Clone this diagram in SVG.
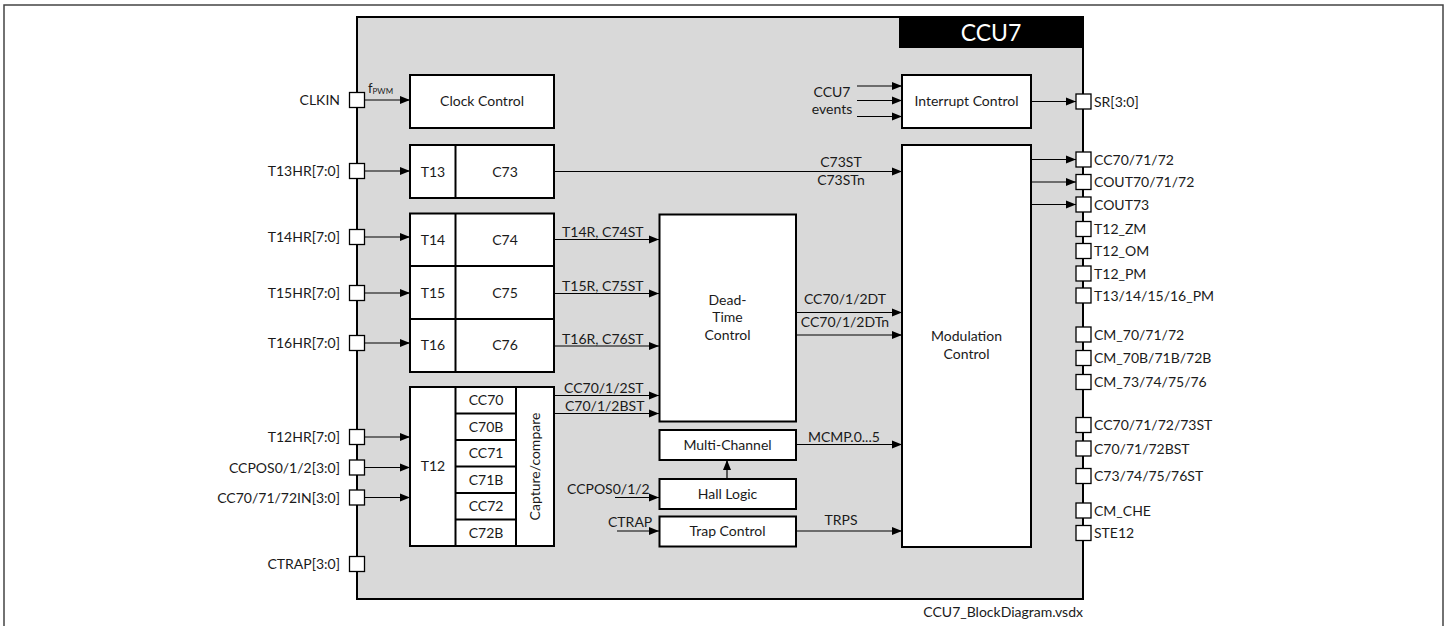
<svg xmlns="http://www.w3.org/2000/svg" width="1450" height="626" viewBox="0 0 1450 626">
<defs>
<marker id="ah" viewBox="0 0 10 10" refX="10" refY="5" markerWidth="10" markerHeight="10" markerUnits="userSpaceOnUse" orient="auto">
<path d="M0,1 L10,5 L0,9 Z" fill="#000"/>
</marker>
<style>
text{font-family:Lato,"Liberation Sans",sans-serif;font-size:14px;fill:#1a1a1a}
.b{fill:#fff;stroke:#000;stroke-width:2}
.p{fill:#fff;stroke:#000;stroke-width:1.3}
.w{stroke:#000;stroke-width:1.2;fill:none;marker-end:url(#ah)}
.m{text-anchor:middle}
.e{text-anchor:end}
</style>
</defs>
<rect width="1450" height="626" fill="#fff"/>
<path d="M4,626 V5 H1443 V626" fill="none" stroke="#444" stroke-width="1.5"/>

<g id="ccu7">
<rect x="357" y="17" width="726" height="582" fill="#d9d9d9" stroke="#000" stroke-width="2"/>
<rect x="899" y="17" width="184" height="31" fill="#000"/>
<text x="991" y="41" class="m" style="font-size:23px;fill:#fff">CCU7</text>
</g>

<g id="connectors">
<line x1="365" y1="100" x2="410" y2="100" class="w"/>
<line x1="365" y1="171" x2="410" y2="171" class="w"/>
<line x1="365" y1="237" x2="410" y2="237" class="w"/>
<line x1="365" y1="293" x2="410" y2="293" class="w"/>
<line x1="365" y1="343" x2="410" y2="343" class="w"/>
<line x1="365" y1="437" x2="410" y2="437" class="w"/>
<line x1="365" y1="467.5" x2="410" y2="467.5" class="w"/>
<line x1="365" y1="497.5" x2="410" y2="497.5" class="w"/>
<line x1="554" y1="171.5" x2="902" y2="171.5" class="w"/>
<line x1="554" y1="239.5" x2="659" y2="239.5" class="w"/>
<line x1="554" y1="293.5" x2="659" y2="293.5" class="w"/>
<line x1="554" y1="346" x2="659" y2="346" class="w"/>
<line x1="554" y1="395.5" x2="659" y2="395.5" class="w"/>
<line x1="554" y1="413.5" x2="659" y2="413.5" class="w"/>
<line x1="796" y1="312.5" x2="902" y2="312.5" class="w"/>
<line x1="796" y1="335" x2="902" y2="335" class="w"/>
<line x1="796" y1="444.5" x2="902" y2="444.5" class="w"/>
<line x1="796" y1="531" x2="902" y2="531" class="w"/>
<line x1="727" y1="479" x2="727" y2="460" class="w"/>
<line x1="615" y1="497.5" x2="659" y2="497.5" class="w"/>
<line x1="617" y1="531" x2="659" y2="531" class="w"/>
<line x1="857" y1="86" x2="902" y2="86" class="w"/>
<line x1="857" y1="100.5" x2="902" y2="100.5" class="w"/>
<line x1="857" y1="116.5" x2="902" y2="116.5" class="w"/>
<line x1="1031" y1="101.5" x2="1076" y2="101.5" class="w"/>
<line x1="1031" y1="159.5" x2="1076" y2="159.5" class="w"/>
<line x1="1031" y1="182" x2="1076" y2="182" class="w"/>
<line x1="1031" y1="204.5" x2="1076" y2="204.5" class="w"/>
<text x="368" y="93" style="font-size:13px">f<tspan dy="1" style="font-size:8px">PWM</tspan></text>
<text x="841" y="167" class="m">C73ST</text>
<text x="841" y="185" class="m">C73STn</text>
<text x="562" y="237">T14R, C74ST</text>
<text x="562" y="291">T15R, C75ST</text>
<text x="562" y="343.5">T16R, C76ST</text>
<text x="564" y="393">CC70/1/2ST</text>
<text x="565" y="411">C70/1/2BST</text>
<text x="845" y="304" class="m">CC70/1/2DT</text>
<text x="845" y="327" class="m">CC70/1/2DTn</text>
<text x="808" y="442">MCMP.0...5</text>
<text x="841" y="525" class="m">TRPS</text>
<text x="567" y="494">CCPOS0/1/2</text>
<text x="608" y="527">CTRAP</text>
<text x="832" y="97" class="m">CCU7</text>
<text x="832" y="114" class="m">events</text>
</g>

<g id="clock-control"><rect x="410" y="75" width="144" height="53" class="b"/><text x="482" y="106" class="m">Clock Control</text></g>
<g id="t13-c73"><rect x="410" y="145" width="144" height="53" class="b"/><line x1="455.5" y1="145" x2="455.5" y2="198" stroke="#000" stroke-width="2"/><text x="433" y="176.5" class="m">T13</text><text x="505" y="176.5" class="m">C73</text></g>
<g id="t14-c74"><rect x="410" y="213.5" width="144" height="52.5" class="b"/><line x1="455.5" y1="213.5" x2="455.5" y2="266" stroke="#000" stroke-width="2"/><text x="433" y="244.5" class="m">T14</text><text x="505" y="244.5" class="m">C74</text></g>
<g id="t15-c75"><rect x="410" y="266" width="144" height="53" class="b"/><line x1="455.5" y1="266" x2="455.5" y2="319" stroke="#000" stroke-width="2"/><text x="433" y="297.5" class="m">T15</text><text x="505" y="297.5" class="m">C75</text></g>
<g id="t16-c76"><rect x="410" y="319" width="144" height="53" class="b"/><line x1="455.5" y1="319" x2="455.5" y2="372" stroke="#000" stroke-width="2"/><text x="433" y="350" class="m">T16</text><text x="505" y="350" class="m">C76</text></g>
<g id="t12"><rect x="410" y="387" width="144" height="159" class="b"/>
<line x1="455.5" y1="387" x2="455.5" y2="546" stroke="#000" stroke-width="2"/>
<line x1="516" y1="387" x2="516" y2="546" stroke="#000" stroke-width="2"/>
<path d="M455.5,413.5 H516 M455.5,440 H516 M455.5,466.5 H516 M455.5,493 H516 M455.5,519.5 H516" stroke="#000" stroke-width="2"/>
<text x="433" y="471" class="m">T12</text>
<text x="486" y="405" class="m">CC70</text>
<text x="486" y="431.5" class="m">C70B</text>
<text x="486" y="458" class="m">CC71</text>
<text x="486" y="484.5" class="m">C71B</text>
<text x="486" y="511" class="m">CC72</text>
<text x="486" y="537.5" class="m">C72B</text>
<text transform="translate(540,466.5) rotate(-90)" class="m">Capture/compare</text>
</g>
<g id="dead-time"><rect x="659.5" y="214.5" width="136.5" height="207" class="b"/><text x="727.5" y="305" class="m">Dead-</text><text x="727.5" y="322" class="m">Time</text><text x="727.5" y="340" class="m">Control</text></g>
<g id="multi-channel"><rect x="659.5" y="430" width="136.5" height="30" class="b"/><text x="727.5" y="449.5" class="m">Multi-Channel</text></g>
<g id="hall-logic"><rect x="659.5" y="479" width="136.5" height="30" class="b"/><text x="727.5" y="498.5" class="m">Hall Logic</text></g>
<g id="trap-control"><rect x="659.5" y="516.5" width="136.5" height="30" class="b"/><text x="727.5" y="536" class="m">Trap Control</text></g>
<g id="interrupt-control"><rect x="902" y="75" width="129" height="53" class="b"/><text x="966.5" y="106" class="m">Interrupt Control</text></g>
<g id="modulation-control"><rect x="902" y="145" width="129" height="402" class="b"/><text x="966.5" y="341" class="m">Modulation</text><text x="966.5" y="359" class="m">Control</text></g>

<g id="pins-left">
<rect x="349.5" y="92.5" width="15" height="15" class="p"/><text x="340" y="105" class="e">CLKIN</text>
<rect x="349.5" y="163.5" width="15" height="15" class="p"/><text x="340" y="176" class="e">T13HR[7:0]</text>
<rect x="349.5" y="229.5" width="15" height="15" class="p"/><text x="340" y="242" class="e">T14HR[7:0]</text>
<rect x="349.5" y="285.5" width="15" height="15" class="p"/><text x="340" y="298" class="e">T15HR[7:0]</text>
<rect x="349.5" y="335.5" width="15" height="15" class="p"/><text x="340" y="348" class="e">T16HR[7:0]</text>
<rect x="349.5" y="429.5" width="15" height="15" class="p"/><text x="340" y="442" class="e">T12HR[7:0]</text>
<rect x="349.5" y="460" width="15" height="15" class="p"/><text x="340" y="472.5" class="e">CCPOS0/1/2[3:0]</text>
<rect x="349.5" y="490" width="15" height="15" class="p"/><text x="340" y="502.5" class="e">CC70/71/72IN[3:0]</text>
<rect x="349.5" y="556.5" width="15" height="15" class="p"/><text x="340" y="569" class="e">CTRAP[3:0]</text>
</g>

<g id="pins-right">
<rect x="1076" y="94" width="15" height="15" class="p"/><text x="1094" y="106.5">SR[3:0]</text>
<rect x="1076" y="152" width="15" height="15" class="p"/><text x="1094" y="164.5">CC70/71/72</text>
<rect x="1076" y="174.5" width="15" height="15" class="p"/><text x="1094" y="187">COUT70/71/72</text>
<rect x="1076" y="197" width="15" height="15" class="p"/><text x="1094" y="209.5">COUT73</text>
<rect x="1076" y="221.5" width="15" height="15" class="p"/><text x="1094" y="234">T12_ZM</text>
<rect x="1076" y="243.5" width="15" height="15" class="p"/><text x="1094" y="256">T12_OM</text>
<rect x="1076" y="266" width="15" height="15" class="p"/><text x="1094" y="278.5">T12_PM</text>
<rect x="1076" y="288" width="15" height="15" class="p"/><text x="1094" y="300.5">T13/14/15/16_PM</text>
<rect x="1076" y="327" width="15" height="15" class="p"/><text x="1094" y="339.5">CM_70/71/72</text>
<rect x="1076" y="350.5" width="15" height="15" class="p"/><text x="1094" y="363">CM_70B/71B/72B</text>
<rect x="1076" y="374.5" width="15" height="15" class="p"/><text x="1094" y="387">CM_73/74/75/76</text>
<rect x="1076" y="417.5" width="15" height="15" class="p"/><text x="1094" y="430">CC70/71/72/73ST</text>
<rect x="1076" y="441" width="15" height="15" class="p"/><text x="1094" y="453.5">C70/71/72BST</text>
<rect x="1076" y="468.5" width="15" height="15" class="p"/><text x="1094" y="481">C73/74/75/76ST</text>
<rect x="1076" y="503" width="15" height="15" class="p"/><text x="1094" y="515.5">CM_CHE</text>
<rect x="1076" y="525.5" width="15" height="15" class="p"/><text x="1094" y="538">STE12</text>
</g>

<text x="1083" y="617" class="e">CCU7_BlockDiagram.vsdx</text>
</svg>
